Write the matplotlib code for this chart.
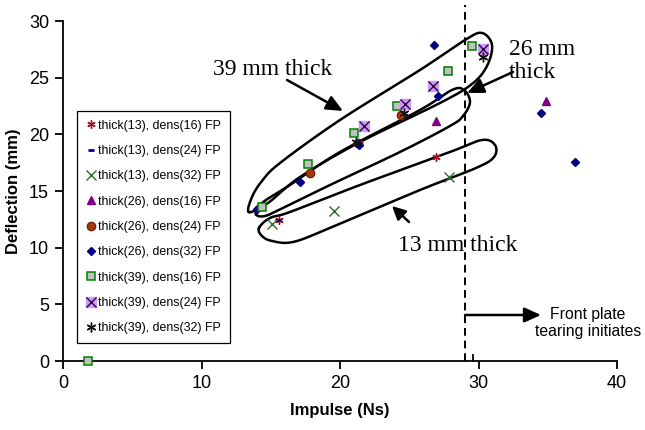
import numpy as np
import matplotlib
matplotlib.use("Agg")
import matplotlib.pyplot as plt
from matplotlib.legend_handler import HandlerTuple

# ---------------- data ----------------
labels = ["thick(13), dens(16) FP", "thick(13), dens(24) FP", "thick(13), dens(32) FP",
          "thick(26), dens(16) FP", "thick(26), dens(24) FP", "thick(26), dens(32) FP",
          "thick(39), dens(16) FP", "thick(39), dens(24) FP", "thick(39), dens(32) FP"]

t13_d16_x = [15.6, 26.9]
t13_d16_y = [12.4, 18.0]
t13_d24_x = [15.5]
t13_d24_y = [12.4]
t13_d32_x = [15.1, 19.6, 27.9]
t13_d32_y = [12.1, 13.2, 16.2]
t26_d16_x = [26.9, 34.9]
t26_d16_y = [21.2, 22.9]
t26_d24_x = [17.8, 21.3, 24.4]
t26_d24_y = [16.6, 19.2, 21.7]
t26_d32_x = [14.0, 17.1, 21.4, 27.1, 26.8, 34.5, 37.0]
t26_d32_y = [13.4, 15.8, 19.1, 23.4, 27.9, 21.9, 17.6]
t39_d16_x = [1.8, 14.35, 17.7, 21.0, 24.1, 27.8, 29.5]
t39_d16_y = [0.0, 13.6, 17.4, 20.1, 22.5, 25.6, 27.8]
t39_d24_x = [21.7, 24.7, 26.7, 30.35]
t39_d24_y = [20.7, 22.7, 24.3, 27.5]
t39_d32_x = [21.15, 24.65, 30.35]
t39_d32_y = [19.3, 21.85, 26.8]

tear_x = 29.0
xticks = [0, 10, 20, 30, 40]
yticks = [0, 5, 10, 15, 20, 25, 30]

# ---------------- figure ----------------
plt.rcParams['font.family'] = ['Liberation Sans', 'DejaVu Sans']
fig = plt.figure(figsize=(6.45, 4.30), dpi=100)
ax = fig.add_axes([63/645, 1-361/430, (617-63)/645, (361-21)/430])
ax.set_xlim(0, 40)
ax.set_ylim(0, 30)
ax.spines['top'].set_visible(False)
ax.spines['right'].set_visible(False)
for s in ['left', 'bottom']:
    ax.spines[s].set_linewidth(1.3)
    ax.spines[s].set_zorder(1)
ax.set_xticks(xticks)
ax.set_yticks(yticks)
ax.tick_params(direction='out', length=6, width=1.3, labelsize=13, pad=4)
ax.set_xlabel("Impulse (Ns)", fontsize=12, fontweight='bold', labelpad=8)
ax.set_ylabel("Deflection (mm)", fontsize=12, fontweight='bold', labelpad=6)

ast = (6, 2, 0)
h = []
h.append(ax.plot(t13_d16_x, t13_d16_y, ls='none', marker=ast, ms=6, mew=1.0, color='#a01020', zorder=5)[0])
h.append(ax.plot(t13_d24_x, t13_d24_y, ls='none', marker='_', ms=5, mew=2, color='#000080', zorder=5)[0])
h.append(ax.plot(t13_d32_x, t13_d32_y, ls='none', marker='x', ms=7, mew=1.0, color='#2f6b2f', zorder=5)[0])
h.append(ax.plot(t26_d16_x, t26_d16_y, ls='none', marker='^', ms=6, color='#800080', zorder=5)[0])
h.append(ax.plot(t26_d24_x, t26_d24_y, ls='none', marker='o', ms=6, mfc='#a33a10', mec='#7a2000', zorder=4)[0])
h.append(ax.plot(t26_d32_x, t26_d32_y, ls='none', marker='D', ms=4.2, color='#000080', zorder=4)[0])
h.append(ax.plot(t39_d16_x, t39_d16_y, ls='none', marker='s', ms=5.5, mfc='#c0c0c0', mec='#008000', mew=1.1, zorder=6, clip_on=False)[0])
sq = ax.plot(t39_d24_x, t39_d24_y, ls='none', marker='s', ms=6.5, mfc='#cc99ff', mec='#cc99ff', zorder=6)[0]
xx = ax.plot(t39_d24_x, t39_d24_y, ls='none', marker='x', ms=6.5, mew=1.0, color='#330033', zorder=7)[0]
h.append((sq, xx))
h.append(ax.plot(t39_d32_x, t39_d32_y, ls='none', marker=ast, ms=7, mew=1.0, color='#111111', zorder=7)[0])

leg = ax.legend(h, labels, loc='upper left', bbox_to_anchor=(77/645, 1-111/430),
                bbox_transform=fig.transFigure, borderaxespad=0, fontsize=8.9,
                labelspacing=1.08, handlelength=0.8, handletextpad=0.2, borderpad=0.7,
                frameon=True, fancybox=False, edgecolor='black', framealpha=1,
                handler_map={tuple: HandlerTuple(ndivide=1)})
leg.get_frame().set_linewidth(0.9)

# dashed tearing line
ax.plot([tear_x, tear_x], [0, 31.4], ls=(0, (4, 2.5)), color='black', lw=1.4, clip_on=False, zorder=3)
ax.plot([29.6, 29.6], [0, 0.55], color='black', lw=1.3, zorder=3)

# ---------------- loops (annotation shapes) ----------------
def px2d(p):
    return ((p[0]-63)/13.85, (361-p[1])/11.333)

def catmull_closed(pts, n=30):
    pts = np.array(pts, float)
    N = len(pts)
    out = []
    for i in range(N):
        p0, p1, p2, p3 = pts[i-1], pts[i], pts[(i+1) % N], pts[(i+2) % N]
        t = np.linspace(0, 1, n, endpoint=False)[:, None]
        out.append(0.5*((2*p1) + (-p0+p2)*t + (2*p0-5*p1+4*p2-p3)*t**2 + (-p0+3*p1-3*p2+p3)*t**3))
    out = np.vstack(out)
    return np.vstack([out, out[:1]])

loop39 = [(249, 212), (252, 197), (262, 181), (280, 163), (340, 120), (420, 70), (465, 40),
          (482, 33), (492, 45), (487, 66), (472, 84), (440, 103), (360, 142), (300, 177), (268, 203)]
loop26 = [(256, 214), (262, 203), (290, 185), (340, 152), (420, 110), (452, 90), (464, 90),
          (470, 102), (463, 116), (450, 126), (400, 152), (330, 185), (285, 207), (265, 216)]
loop13 = [(259, 228), (270, 218), (290, 212), (360, 185), (450, 152), (482, 140), (495, 145),
          (494, 157), (476, 168), (420, 190), (330, 228), (293, 242), (272, 241), (262, 236)]
for L in (loop39, loop26, loop13):
    c = catmull_closed([px2d(p) for p in L])
    ax.plot(c[:, 0], c[:, 1], color='black', lw=1.8, zorder=2, clip_on=False)

# ---------------- annotations ----------------
serif = ['Liberation Serif', 'DejaVu Serif']
arrowp = dict(arrowstyle='-|>,head_length=1.0,head_width=0.45', color='black', lw=1.8, shrinkA=0, shrinkB=0)
ax.text(*px2d((273, 70)), "39 mm thick", family=serif, fontsize=17, ha='center', va='center')
ax.annotate("", xy=px2d((343, 111)), xytext=px2d((287, 80)), arrowprops=arrowp)
ax.text(*px2d((509, 61)), "26 mm\nthick", family=serif, fontsize=17, ha='left', va='center', linespacing=1.15)
ax.annotate("", xy=px2d((467, 93)), xytext=px2d((513, 72)), arrowprops=arrowp)
ax.text(*px2d((458, 246)), "13 mm thick", family=serif, fontsize=17, ha='center', va='center')
ax.annotate("", xy=px2d((392, 206)), xytext=px2d((409, 222)), arrowprops=dict(arrowstyle='-|>,head_length=0.8,head_width=0.4', color='black', lw=1.8, shrinkA=0, shrinkB=0))
ax.annotate("", xy=px2d((541, 315)), xytext=px2d((465, 315)), arrowprops=arrowp)
ax.text(*px2d((588, 323)), "Front plate\ntearing initiates", fontsize=11.3, ha='center', va='center',
        linespacing=1.15)

fig.savefig("out.png", dpi=100)
